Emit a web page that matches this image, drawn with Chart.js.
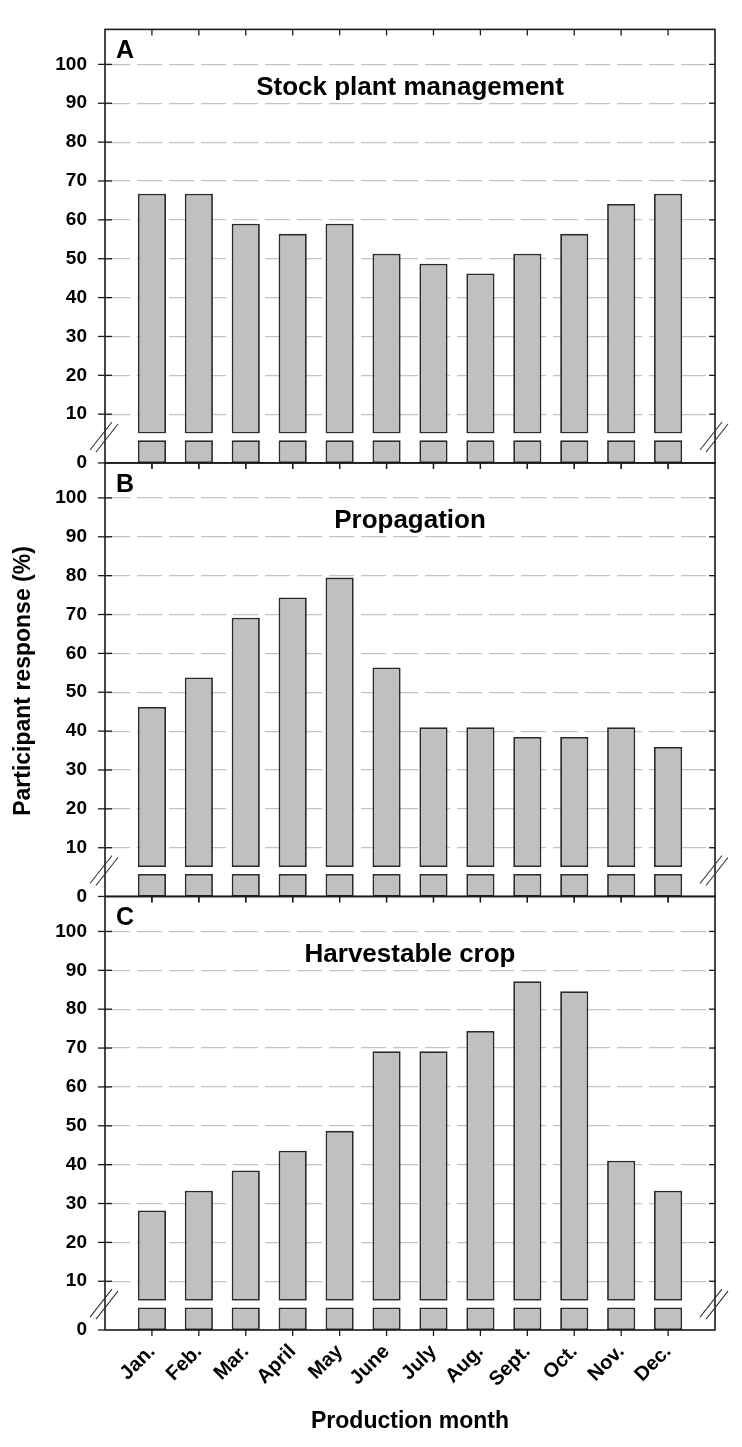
<!DOCTYPE html>
<html>
<head>
<meta charset="utf-8">
<script src="https://cdn.jsdelivr.net/npm/chart.js@4.4.1/dist/chart.umd.min.js"></script>
<style>
  html, body { margin: 0; padding: 0; background: #ffffff; }
  #wrap { position: relative; width: 742px; height: 1447px; }
</style>
</head>
<body>
<div id="wrap"><canvas id="c" width="742" height="1447"></canvas></div>
<script>
// ---------------- data ----------------
const months = ['Jan.', 'Feb.', 'Mar.', 'April', 'May', 'June', 'July', 'Aug.', 'Sept.', 'Oct.', 'Nov.', 'Dec.'];
const stockPlant  = [66.7, 66.7, 59.0, 56.4, 59.0, 51.3, 48.7, 46.2, 51.3, 56.4, 64.1, 66.7];
const propagation = [46.2, 53.8, 69.2, 74.4, 79.5, 56.4, 41.0, 41.0, 38.5, 38.5, 41.0, 35.9];
const harvestable = [28.2, 33.3, 38.5, 43.6, 48.7, 69.2, 69.2, 74.4, 87.2, 84.6, 41.0, 33.3];
// part of each bar shown below the axis break
const lowSegment  = [3.85, 3.85, 3.85, 3.85, 3.85, 3.85, 3.85, 3.85, 3.85, 3.85, 3.85, 3.85];
const yTickValues = [10, 20, 30, 40, 50, 60, 70, 80, 90, 100];
const yLowTickValues = [0];
const panelLetters = ['A', 'B', 'C'];
const panelTitles = ['Stock plant management', 'Propagation', 'Harvestable crop'];
const yTitle = 'Participant response (%)';
const xTitle = 'Production month';

// ---------------- setup ----------------
const FONT = '"Liberation Sans", Arial, Helvetica, sans-serif';
const HI_MIN = 5, HI_MAX = 109, LO_MIN = 0, LO_MAX = 5;
const labels = [''].concat(months, ['']);
const pad = arr => [null].concat(arr, [null]);

const panels = [
  { values: stockPlant,  hi: 'yAhi', lo: 'yAlo' },
  { values: propagation, hi: 'yBhi', lo: 'yBlo' },
  { values: harvestable, hi: 'yChi', lo: 'yClo' }
];

const tickFont = { family: FONT, size: 19, weight: 'bold' };

function hiAxis() {
  return {
    type: 'linear', position: 'left', stack: 'panels', stackWeight: 409.6,
    min: HI_MIN, max: HI_MAX,
    afterBuildTicks: ax => { ax.ticks = yTickValues.map(v => ({ value: v })); },
    afterFit: ax => { ax.width = 105; },
    grid: { color: '#c4c4c4', lineWidth: 1.2, drawTicks: false, borderDash: [25, 7] },
    border: { display: false, dash: [25, 7] },
    ticks: { padding: 18, font: tickFont, color: '#000', autoSkip: false }
  };
}
function loAxis() {
  return {
    type: 'linear', position: 'left', stack: 'panels', stackWeight: 29.7,
    min: LO_MIN, max: LO_MAX,
    afterBuildTicks: ax => { ax.ticks = yLowTickValues.map(v => ({ value: v })); },
    afterFit: ax => { ax.width = 105; },
    grid: { display: false, drawTicks: false },
    border: { display: false },
    ticks: { padding: 18, font: tickFont, color: '#000', autoSkip: false }
  };
}

const barStyle = {
  grouped: false, backgroundColor: '#c0c0c0', borderColor: '#2a2a2a', borderWidth: 1.8,
  borderSkipped: false, barPercentage: 0.6, categoryPercentage: 1.0
};
const datasets = [];
panels.forEach(p => {
  datasets.push(Object.assign({ data: pad(p.values.map(v => [HI_MIN, v])), yAxisID: p.hi, xAxisID: 'x' }, barStyle));
  datasets.push(Object.assign({ data: pad(lowSegment), yAxisID: p.lo, xAxisID: 'x' }, barStyle));
});

function line(ctx, x1, y1, x2, y2) {
  ctx.beginPath(); ctx.moveTo(x1, y1); ctx.lineTo(x2, y2); ctx.stroke();
}

const decorations = {
  id: 'decorations',
  afterDatasetsDraw(chart) {
    const ctx = chart.ctx, ca = chart.chartArea, xs = chart.scales.x;
    ctx.save();
    panels.forEach((p, k) => {
      const hi = chart.scales[p.hi], lo = chart.scales[p.lo];
      const top = hi.top, bot = lo.bottom;
      // frame
      ctx.strokeStyle = '#1a1a1a';
      ctx.lineWidth = 1.6;
      ctx.strokeRect(ca.left, top, ca.right - ca.left, bot - top);
      // x ticks (pointing down) at top and bottom of each panel
      ctx.lineWidth = 1.3;
      for (let i = 1; i <= months.length; i++) {
        const px = xs.getPixelForValue(i);
        line(ctx, px, top, px, top + 6);
        line(ctx, px, bot, px, bot + 6);
      }
      // y ticks
      hi.ticks.forEach(t => {
        const py = hi.getPixelForValue(t.value);
        line(ctx, ca.left - 7, py, ca.left + 7, py);
        line(ctx, ca.right - 6, py, ca.right, py);
      });
      lo.ticks.forEach(t => {
        const py = lo.getPixelForValue(t.value);
        line(ctx, ca.left - 7, py, ca.left, py);
      });
      // axis break marks
      const yc = (hi.bottom + lo.getPixelForValue(lowSegment[0])) / 2;
      ctx.strokeStyle = '#333';
      ctx.lineWidth = 1.1;
      [ca.left, ca.right].forEach(bx => {
        line(ctx, bx - 15, yc + 13, bx + 7, yc - 15);
        line(ctx, bx - 9, yc + 15, bx + 13, yc - 13);
      });
      // panel letter and title
      ctx.fillStyle = '#000';
      ctx.textBaseline = 'alphabetic';
      ctx.textAlign = 'left';
      ctx.font = 'bold 25px ' + FONT;
      ctx.fillText(panelLetters[k], ca.left + 11, top + 28.7);
      ctx.textAlign = 'center';
      ctx.font = 'bold 26px ' + FONT;
      ctx.fillText(panelTitles[k], (ca.left + ca.right) / 2, top + 65.3);
    });
    // shared y title
    ctx.save();
    ctx.translate(24, 681);
    ctx.rotate(-Math.PI / 2);
    ctx.font = 'bold 23px ' + FONT;
    ctx.textAlign = 'center';
    ctx.textBaseline = 'middle';
    ctx.fillStyle = '#000';
    ctx.fillText(yTitle, 0, 0);
    ctx.restore();
    ctx.restore();
  }
};

new Chart(document.getElementById('c'), {
  type: 'bar',
  data: { labels: labels, datasets: datasets },
  options: {
    responsive: false,
    animation: false,
    events: [],
    devicePixelRatio: 1,
    layout: { padding: { top: 12, right: 10, left: 0, bottom: 0 } },
    plugins: { legend: { display: false }, tooltip: { enabled: false } },
    scales: {
      x: {
        type: 'category', position: 'bottom', offset: false,
        grid: { display: false, drawTicks: false },
        border: { display: false },
        ticks: { autoSkip: false, minRotation: 45, maxRotation: 45, padding: 10,
                 font: { family: FONT, size: 20, weight: 'bold' }, color: '#000' },
        title: { display: true, text: xTitle, color: '#000',
                 font: { family: FONT, size: 23, weight: 'bold' }, padding: { top: 0, bottom: 12 } },
        afterFit: ax => { ax.height = 117; }
      },
      yClo: loAxis(), yChi: hiAxis(),
      yBlo: loAxis(), yBhi: hiAxis(),
      yAlo: loAxis(), yAhi: hiAxis()
    }
  },
  plugins: [decorations]
});
</script>
</body>
</html>
